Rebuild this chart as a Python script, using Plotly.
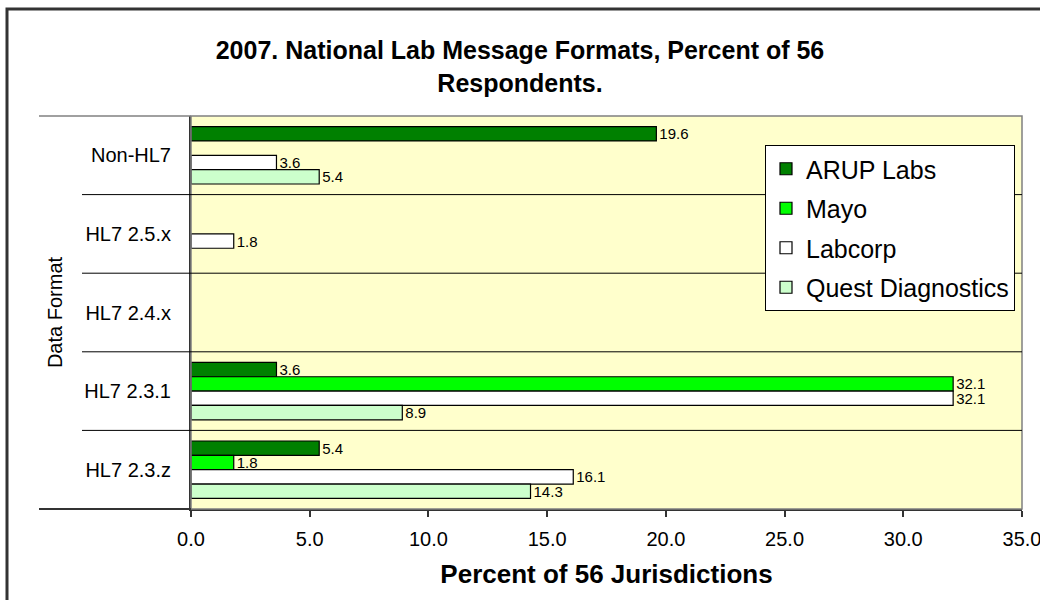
import plotly.graph_objects as go

# データ（上から順のカテゴリ）
categories = ["Non-HL7", "HL7 2.5.x", "HL7 2.4.x", "HL7 2.3.1", "HL7 2.3.z"]
series_names = ["ARUP Labs", "Mayo", "Labcorp", "Quest Diagnostics"]
arup = [19.6, None, None, 3.6, 5.4]
mayo = [None, None, None, 32.1, 1.8]
labcorp = [3.6, 1.8, None, 32.1, 16.1]
quest = [5.4, None, None, 8.9, 14.3]
x_ticks = [0, 5, 10, 15, 20, 25, 30, 35]

series_values = [arup, mayo, labcorp, quest]
colors = ["#008000", "#00FF00", "#FFFFFF", "#CCFFCC"]
FONT = "Liberation Sans, Arial, sans-serif"

# プロット領域のピクセル位置 (左191, 右1022, 上116, 下509)
L, R, T, B = 191, 18, 116, 91
PW, PH = 1040 - L - R, 600 - T - B

fig = go.Figure()
for i, (name, vals) in enumerate(zip(series_names, series_values)):
    fig.add_trace(go.Bar(
        y=categories,
        x=vals,
        name=name,
        orientation="h",
        legendgroup=name,
        marker=dict(color=colors[i], line=dict(color="#000000", width=1.2)),
        texttemplate="%{x:.1f}",
        textposition="outside",
        textfont=dict(family=FONT, size=15, color="#000000"),
        constraintext="none",
        cliponaxis=False,
    ))

shapes = [
    # 外枠
    dict(type="rect", xref="paper", yref="paper", x0=(7 - L) / PW, x1=1.2,
         y0=-0.4, y1=1 + (T - 9) / PH, line=dict(color="#333333", width=3)),
    # プロット領域の枠
    dict(type="rect", xref="paper", yref="paper", x0=0, x1=1, y0=0, y1=1,
         line=dict(color="#808080", width=1.5)),
    dict(type="line", xref="paper", yref="paper", x0=(39 - L) / PW, x1=0,
         y0=1, y1=1, line=dict(color="#808080", width=1.5)),
    dict(type="line", xref="paper", yref="paper", x0=(39 - L) / PW, x1=0,
         y0=0, y1=0, line=dict(color="#333333", width=2)),
]
for k in range(len(categories) - 1):  # カテゴリ境界線
    shapes.append(dict(type="line", xref="paper", yref="y", x0=(82 - L) / PW, x1=1,
                       y0=k + 0.5, y1=k + 0.5, line=dict(color="#000000", width=1)))

fig.update_layout(
    template="none",
    width=1040, height=600,
    margin=dict(l=L, r=R, t=T, b=B, pad=0),
    paper_bgcolor="#FFFFFF",
    plot_bgcolor="#FFFFCC",
    font=dict(family=FONT, color="#000000"),
    title=dict(text="<b>2007. National Lab Message Formats, Percent of 56<br>Respondents.</b>",
               x=0.5, xref="container", xanchor="center",
               y=1 - 59 / 600, yref="container", yanchor="middle",
               font=dict(family=FONT, size=25, color="#000000")),
    barmode="group",
    bargap=0.27,
    bargroupgap=0,
    legend=dict(x=(765 - L) / PW, y=1 - (145 - T) / PH, xanchor="left", yanchor="top",
                bgcolor="#FFFFFF", bordercolor="#000000", borderwidth=1,
                font=dict(family=FONT, size=25, color="#000000"),
                traceorder="grouped", tracegroupgap=4, itemwidth=30),
    shapes=shapes,
)

fig.update_xaxes(
    range=[0, 35], tickvals=x_ticks, tickformat=".1f",
    showgrid=False, zeroline=False, automargin=False,
    showline=True, linecolor="#333333", linewidth=2,
    ticks="outside", ticklen=6, tickcolor="#333333", tickwidth=1.5,
    ticklabelstandoff=5, ticklabeloverflow="allow",
    tickfont=dict(family=FONT, size=20, color="#000000"),
    title=dict(text="<b>Percent of 56 Jurisdictions</b>", standoff=16,
               font=dict(family=FONT, size=26, color="#000000")),
)
fig.update_yaxes(
    type="category", autorange="reversed",
    showgrid=False, zeroline=False, automargin=False,
    showline=True, linecolor="#333333", linewidth=2,
    ticks="", ticklabelstandoff=14,
    tickfont=dict(family=FONT, size=20, color="#000000"),
    title=dict(text="Data Format", standoff=16,
               font=dict(family=FONT, size=20, color="#000000")),
)

# ページ余白をなくしてグラフを左上に揃える
fig.write_html("out.html", config={"displayModeBar": False},
               post_script="document.body.style.margin = '0';")
